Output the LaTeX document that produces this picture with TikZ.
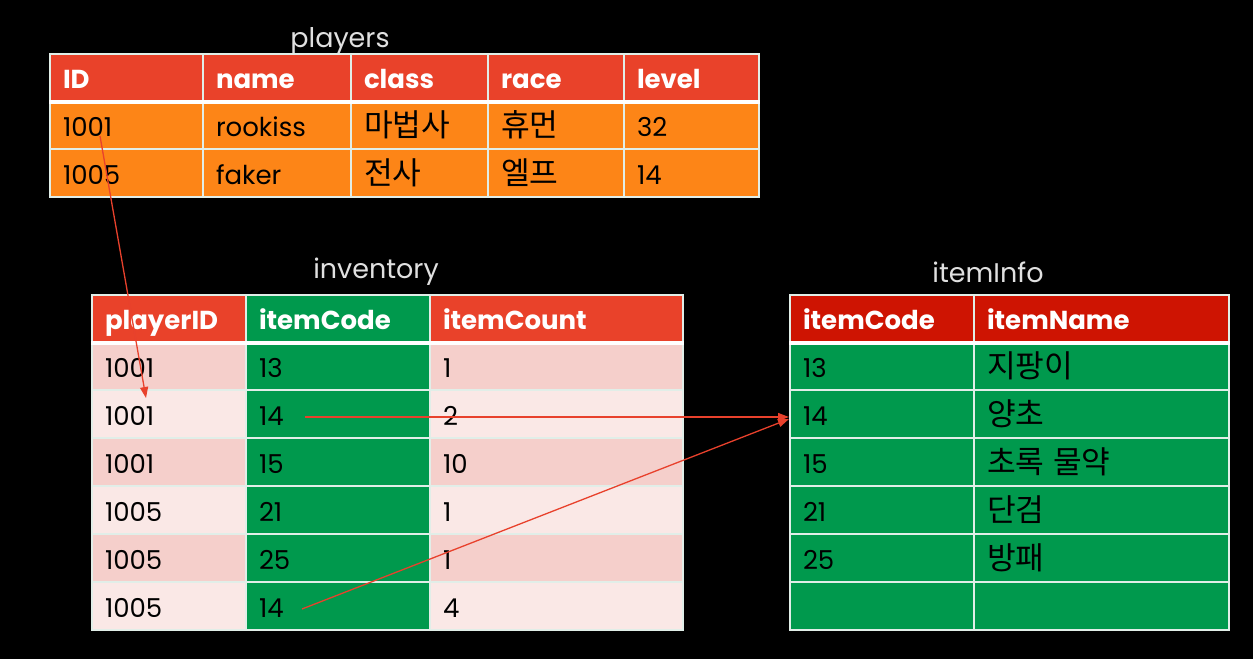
\documentclass[tikz,border=0pt]{standalone}
\usepackage{fontspec}
\setmainfont{Poppins}
\newfontfamily\kr{Noto Sans CJK KR}[Scale=1.2]
\usetikzlibrary{arrows.meta,calc}
\definecolor{hdrred}{RGB}{233,66,42}
\definecolor{infored}{RGB}{206,20,2}
\definecolor{rowora}{RGB}{253,133,23}
\definecolor{rowgrn}{RGB}{0,153,77}
\definecolor{pinkdk}{RGB}{245,207,203}
\definecolor{pinklt}{RGB}{250,232,230}
\definecolor{gridln}{RGB}{225,238,232}
\definecolor{linkred}{RGB}{232,65,44}
\tikzset{
  cell/.style={draw=gridln, line width=2pt, anchor=north west, inner sep=0pt,
               minimum height=48pt, text height=24pt, text depth=2pt,
               font=\fontsize{26}{31}\selectfont},
  headcell/.style={cell, text=white, minimum height=47pt,
                   font=\fontsize{26}{31}\selectfont\bfseries},
  title/.style={text=white!88!black, anchor=base, font=\fontsize{27}{32}\selectfont},
  sepline/.style={draw=white, line width=4pt},
  link/.style={-{Triangle[length=11pt,width=8pt]}, draw=linkred, line width=1.3pt},
}

\begin{document}
\begin{tikzpicture}[x=1pt, y=-1pt]
  \fill[black] (0,0) rectangle (1253,659);

  % players
  \node[title] (players) at (340,47) {players};
  \foreach \c/\x/\w/\h/\a/\b in {1/49/153/ID/1001/1005,
      2/202/148/name/rookiss/faker,
      3/350/137/class/{\kr 마법사}/{\kr 전사},
      4/487/136/race/{\kr 휴먼}/{\kr 엘프},
      5/623/135/level/32/14} {
    \node[headcell, fill=hdrred, minimum width=\w pt, text width=\w pt-26pt]
      (pl-0-\c) at (\x,53) {\h};
    \node[cell, fill=rowora, minimum width=\w pt, text width=\w pt-26pt]
      (pl-1-\c) at (\x,100) {\a};
    \node[cell, fill=rowora, minimum width=\w pt, text width=\w pt-26pt]
      (pl-2-\c) at (\x,148) {\b};
  }
  \draw[sepline] (pl-0-1.south west) -- (pl-0-5.south east);

  % inventory
  \node[title] (inventory) at (376,278) {inventory};
  \foreach \c/\x/\w/\h/\f in {1/91/154/playerID/hdrred, 2/245/184/itemCode/rowgrn,
      3/429/253/itemCount/hdrred}
    \node[headcell, fill=\f, minimum width=\w pt, text width=\w pt-26pt]
      (inv-0-\c) at (\x,294) {\h};
  \foreach \r/\pid/\code/\cnt in {1/1001/13/1, 2/1001/14/2, 3/1001/15/10,
      4/1005/21/1, 5/1005/25/1, 6/1005/14/4} {
    \ifodd\r \def\pk{pinkdk}\else \def\pk{pinklt}\fi
    \node[cell, fill=\pk, minimum width=154pt, text width=128pt]
      (inv-\r-1) at (91,293+48*\r) {\pid};
    \node[cell, fill=rowgrn, minimum width=184pt, text width=158pt]
      (inv-\r-2) at (245,293+48*\r) {\code};
    \node[cell, fill=\pk, minimum width=253pt, text width=227pt]
      (inv-\r-3) at (429,293+48*\r) {\cnt};
  }
  \draw[sepline] (inv-0-1.south west) -- (inv-0-3.south east);

  % itemInfo
  \node[title] (iteminfo) at (988,282) {itemInfo};
  \node[headcell, fill=infored, minimum width=184pt, text width=158pt]
    (inf-0-1) at (789,294) {itemCode};
  \node[headcell, fill=infored, minimum width=255pt, text width=229pt]
    (inf-0-2) at (973,294) {itemName};
  \foreach \r/\code/\iname in {1/13/{\kr 지팡이}, 2/14/{\kr 양초}, 3/15/{\kr 초록 물약},
      4/21/{\kr 단검}, 5/25/{\kr 방패}, 6//} {
    \node[cell, fill=rowgrn, minimum width=184pt, text width=158pt]
      (inf-\r-1) at (789,293+48*\r) {\code};
    \node[cell, fill=rowgrn, minimum width=255pt, text width=229pt]
      (inf-\r-2) at (973,293+48*\r) {\iname};
  }
  \draw[sepline] (inf-0-1.south west) -- (inf-0-2.south east);

  % links
  \coordinate (from-pl) at ($(pl-1-1.west)+(51,11)$);
  \coordinate (to-inv) at ($(inv-2-1.west)+(55,-16)$);
  \coordinate (code-a) at ($(inv-2-2.west)+(60,3)$);
  \coordinate (code-b) at ($(inv-6-2.west)+(57,3)$);
  \draw[link] (from-pl) -- (to-inv);
  \draw[link] (code-a) -- (code-a -| inf-2-1.west);
  \draw[link] (code-b) -- ($(inf-2-1.west)+(0,5)$);
\end{tikzpicture}
\end{document}
